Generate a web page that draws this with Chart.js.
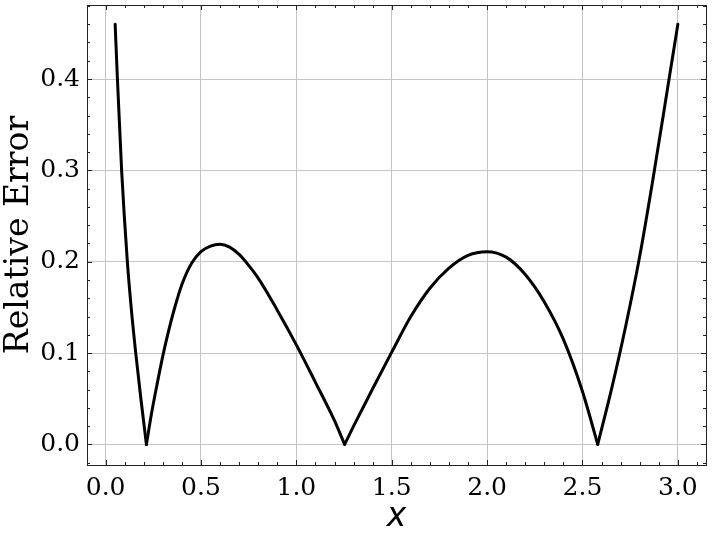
<!DOCTYPE html>
<html>
<head>
<meta charset="utf-8">
<script src="https://cdn.jsdelivr.net/npm/chart.js@4.4.0/dist/chart.umd.min.js"></script>
<style>
  html, body { margin: 0; padding: 0; background: #fff; }
</style>
</head>
<body>
<canvas id="grafica" width="712" height="537"></canvas>
<script>
// Valores
const xValores = [0.05, 0.062, 0.084, 0.098, 0.114, 0.134, 0.158, 0.185, 0.214,
  0.24, 0.27, 0.30, 0.33, 0.36, 0.40, 0.45, 0.50, 0.55, 0.60, 0.65, 0.70, 0.75, 0.80, 0.90, 1.0, 1.1, 1.2, 1.253,
  1.3, 1.4, 1.5, 1.6, 1.7, 1.8, 1.9, 2.0, 2.1, 2.2, 2.3, 2.4, 2.5, 2.58,
  2.655, 2.725, 2.8, 2.877, 2.95, 3.0];
const errorRelativo = [0.46, 0.40, 0.30, 0.25, 0.20, 0.15, 0.10, 0.05, 0.0,
  0.033, 0.066, 0.097, 0.124, 0.148, 0.175, 0.198, 0.211, 0.217, 0.219, 0.216, 0.208, 0.196, 0.182, 0.147, 0.109, 0.068, 0.026, 0.0,
  0.02, 0.061, 0.101, 0.14, 0.171, 0.193, 0.207, 0.211, 0.205, 0.186, 0.156, 0.115, 0.058, 0.0,
  0.063, 0.128, 0.206, 0.30, 0.395, 0.46];
const xTicks = [0, 0.5, 1.0, 1.5, 2.0, 2.5, 3.0];
const yTicks = [0, 0.1, 0.2, 0.3, 0.4];
const etiquetaX = 'x';
const etiquetaY = 'Relative Error';

// Partir la curva en los ceros para que las puntas queden marcadas
function armarTramos() {
    const tramos = [];
    let actual = [];
    xValores.forEach((xv, i) => {
        actual.push({ x: xv, y: errorRelativo[i] });
        if (errorRelativo[i] === 0 && actual.length > 1) {
            tramos.push(actual);
            actual = [{ x: xv, y: 0 }];
        }
    });
    if (actual.length > 1) tramos.push(actual);
    return tramos.map(t => ({
        data: t,
        borderColor: '#000',
        borderWidth: 3,
        pointRadius: 0,
        borderCapStyle: 'round',
        borderJoinStyle: 'round',
        cubicInterpolationMode: 'monotone',
        fill: false
    }));
}

// Marcas hacia adentro en los cuatro lados + marco
const marcasAdentro = {
    id: 'marcasAdentro',
    afterDatasetsDraw(chart) {
        const { ctx, chartArea: a, scales: { x, y } } = chart;
        ctx.save();
        ctx.strokeStyle = '#222';
        ctx.lineWidth = 1;
        const linea = (x1, y1, x2, y2) => {
            ctx.beginPath(); ctx.moveTo(x1, y1); ctx.lineTo(x2, y2); ctx.stroke();
        };
        for (let i = Math.ceil(x.min / 0.1); i * 0.1 <= x.max; i++) {
            const px = Math.round(x.getPixelForValue(i * 0.1)) + 0.5;
            const largo = i % 5 === 0 ? 5 : 3;
            linea(px, a.bottom, px, a.bottom - largo);
            linea(px, a.top, px, a.top + largo);
        }
        for (let i = Math.ceil(y.min / 0.02); i * 0.02 <= y.max; i++) {
            const py = Math.round(y.getPixelForValue(i * 0.02)) + 0.5;
            const largo = i % 5 === 0 ? 5 : 3;
            linea(a.left, py, a.left + largo, py);
            linea(a.right, py, a.right - largo, py);
        }
        ctx.strokeRect(a.left + 0.5, a.top + 0.5, a.right - a.left, a.bottom - a.top);
        ctx.restore();
    }
};

const fuenteTicks = { family: 'DejaVu Serif', size: 25 };

new Chart(document.getElementById('grafica'), {
    type: 'line',
    data: { datasets: armarTramos() },
    options: {
        responsive: false,
        animation: false,
        devicePixelRatio: 1,
        layout: { padding: { left: 0, right: 6, top: 5, bottom: 0 } },
        plugins: { legend: { display: false }, tooltip: { enabled: false } },
        scales: {
            x: {
                type: 'linear',
                min: -0.0975,
                max: 3.1475,
                afterBuildTicks: s => { s.ticks = xTicks.map(v => ({ value: v })); },
                afterFit: s => { s.height = 72; s.paddingLeft = 0; s.paddingRight = 0; },
                grid: { color: '#c4c4c4', lineWidth: 1, drawTicks: false },
                border: { display: false },
                ticks: { font: fuenteTicks, color: '#000', padding: 8, maxRotation: 0, autoSkip: false,
                    callback: v => Number(v).toFixed(1) },
                title: { display: true, text: etiquetaX, color: '#000', padding: { top: 0, bottom: 0 },
                    font: { family: 'DejaVu Sans', size: 33, style: 'italic' } }
            },
            y: {
                type: 'linear',
                min: -0.0225,
                max: 0.481,
                afterBuildTicks: s => { s.ticks = yTicks.map(v => ({ value: v })); },
                afterFit: s => { s.width = 87; s.paddingTop = 0; s.paddingBottom = 0; },
                grid: { color: '#c4c4c4', lineWidth: 1, drawTicks: false },
                border: { display: false },
                ticks: { font: fuenteTicks, color: '#000', padding: 7,
                    callback: v => Number(v).toFixed(1) },
                title: { display: true, text: etiquetaY, color: '#000', padding: { top: 0, bottom: 0 },
                    font: { family: 'DejaVu Serif', size: 33 } }
            }
        }
    },
    plugins: [marcasAdentro]
});
</script>
</body>
</html>
